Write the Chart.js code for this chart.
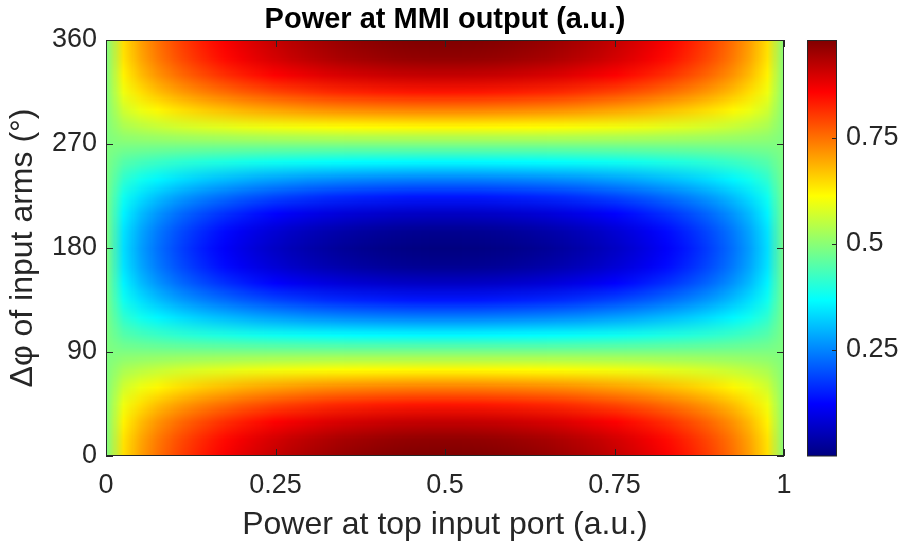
<!DOCTYPE html>
<html>
<head>
<meta charset="utf-8">
<script src="https://cdn.jsdelivr.net/npm/chart.js@4.4.1/dist/chart.umd.min.js"></script>
<style>
  html, body { margin: 0; padding: 0; background: #ffffff; }
  #wrap { width: 906px; height: 548px; }
</style>
</head>
<body>
<div id="wrap"><canvas id="c" width="906" height="548"></canvas></div>
<script>
// Power fed into the top input port (a.u.), one entry per column
const topPower = [0,0.025,0.05,0.075,0.1,0.125,0.15,0.175,0.2,0.225,0.25,0.275,0.3,0.325,0.35,0.375,0.4,0.425,0.45,0.475,0.5,
                  0.525,0.55,0.575,0.6,0.625,0.65,0.675,0.7,0.725,0.75,0.775,0.8,0.825,0.85,0.875,0.9,0.925,0.95,0.975,1];

// Phase difference between the input arms (degrees), one entry per row
const phaseDeg = [0,15,30,45,60,75,90,105,120,135,150,165,180,195,210,225,240,255,270,285,300,315,330,345,360];

// Power at the MMI output (a.u.): one row per phase, one value per top-port power
const outputPower = [
  [0.49,0.643,0.704,0.748,0.784,0.814,0.840,0.862,0.882,0.899,0.914,0.928,0.939,0.949,0.957,0.964,0.970,0.975,0.978,0.979,0.980,0.979,0.978,0.975,0.970,0.964,0.957,0.949,0.939,0.928,0.914,0.899,0.882,0.862,0.840,0.814,0.784,0.748,0.704,0.643,0.49],
  [0.49,0.638,0.696,0.739,0.774,0.803,0.828,0.850,0.869,0.885,0.900,0.913,0.924,0.933,0.942,0.948,0.954,0.958,0.961,0.963,0.963,0.963,0.961,0.958,0.954,0.948,0.942,0.933,0.924,0.913,0.900,0.885,0.869,0.850,0.828,0.803,0.774,0.739,0.696,0.638,0.49],
  [0.49,0.623,0.675,0.714,0.745,0.771,0.793,0.813,0.830,0.844,0.858,0.869,0.879,0.888,0.895,0.901,0.906,0.910,0.912,0.914,0.914,0.914,0.912,0.910,0.906,0.901,0.895,0.888,0.879,0.869,0.858,0.844,0.830,0.813,0.793,0.771,0.745,0.714,0.675,0.623,0.49],
  [0.49,0.598,0.641,0.673,0.698,0.719,0.737,0.753,0.767,0.779,0.790,0.799,0.808,0.815,0.821,0.825,0.830,0.833,0.835,0.836,0.837,0.836,0.835,0.833,0.830,0.825,0.821,0.815,0.808,0.799,0.790,0.779,0.767,0.753,0.737,0.719,0.698,0.673,0.641,0.598,0.49],
  [0.49,0.567,0.597,0.619,0.637,0.652,0.665,0.676,0.686,0.695,0.702,0.709,0.715,0.720,0.724,0.727,0.730,0.732,0.734,0.735,0.735,0.735,0.734,0.732,0.730,0.727,0.724,0.720,0.715,0.709,0.702,0.695,0.686,0.676,0.665,0.652,0.637,0.619,0.597,0.567,0.49],
  [0.49,0.530,0.545,0.557,0.566,0.574,0.581,0.586,0.592,0.596,0.600,0.603,0.606,0.609,0.611,0.613,0.614,0.615,0.616,0.617,0.617,0.617,0.616,0.615,0.614,0.613,0.611,0.609,0.606,0.603,0.600,0.596,0.592,0.586,0.581,0.574,0.566,0.557,0.545,0.530,0.49],
  [0.49,0.49,0.49,0.49,0.49,0.49,0.49,0.49,0.49,0.49,0.49,0.49,0.49,0.49,0.49,0.49,0.49,0.49,0.49,0.49,0.49,0.49,0.49,0.49,0.49,0.49,0.49,0.49,0.49,0.49,0.49,0.49,0.49,0.49,0.49,0.49,0.49,0.49,0.49,0.49,0.49],
  [0.49,0.450,0.435,0.423,0.414,0.406,0.399,0.394,0.389,0.384,0.380,0.377,0.374,0.371,0.369,0.367,0.366,0.365,0.364,0.363,0.363,0.363,0.364,0.365,0.366,0.367,0.369,0.371,0.374,0.377,0.380,0.384,0.389,0.394,0.399,0.406,0.414,0.423,0.435,0.450,0.49],
  [0.49,0.414,0.383,0.361,0.343,0.328,0.315,0.304,0.294,0.285,0.278,0.271,0.265,0.261,0.256,0.253,0.250,0.248,0.246,0.245,0.245,0.245,0.246,0.248,0.250,0.253,0.256,0.261,0.265,0.271,0.278,0.285,0.294,0.304,0.315,0.328,0.343,0.361,0.383,0.414,0.49],
  [0.49,0.382,0.339,0.308,0.282,0.261,0.243,0.227,0.213,0.201,0.190,0.181,0.172,0.165,0.160,0.155,0.151,0.147,0.145,0.144,0.144,0.144,0.145,0.147,0.151,0.155,0.160,0.165,0.172,0.181,0.190,0.201,0.213,0.227,0.243,0.261,0.282,0.308,0.339,0.382,0.49],
  [0.49,0.358,0.305,0.267,0.235,0.209,0.187,0.168,0.151,0.136,0.123,0.111,0.101,0.093,0.085,0.079,0.074,0.070,0.068,0.066,0.066,0.066,0.068,0.070,0.074,0.079,0.085,0.093,0.101,0.111,0.123,0.136,0.151,0.168,0.187,0.209,0.235,0.267,0.305,0.358,0.49],
  [0.49,0.342,0.284,0.241,0.206,0.177,0.152,0.130,0.111,0.095,0.080,0.067,0.056,0.047,0.039,0.032,0.026,0.022,0.019,0.017,0.017,0.017,0.019,0.022,0.026,0.032,0.039,0.047,0.056,0.067,0.080,0.095,0.111,0.130,0.152,0.177,0.206,0.241,0.284,0.342,0.49],
  [0.49,0.337,0.276,0.232,0.196,0.166,0.140,0.118,0.098,0.081,0.066,0.052,0.041,0.031,0.023,0.016,0.010,0.006,0.003,0.001,0.000,0.001,0.003,0.006,0.010,0.016,0.023,0.031,0.041,0.052,0.066,0.081,0.098,0.118,0.140,0.166,0.196,0.232,0.276,0.337,0.49],
  [0.49,0.342,0.284,0.241,0.206,0.177,0.152,0.130,0.111,0.095,0.080,0.067,0.056,0.047,0.039,0.032,0.026,0.022,0.019,0.017,0.017,0.017,0.019,0.022,0.026,0.032,0.039,0.047,0.056,0.067,0.080,0.095,0.111,0.130,0.152,0.177,0.206,0.241,0.284,0.342,0.49],
  [0.49,0.358,0.305,0.267,0.235,0.209,0.187,0.168,0.151,0.136,0.123,0.111,0.101,0.093,0.085,0.079,0.074,0.070,0.068,0.066,0.066,0.066,0.068,0.070,0.074,0.079,0.085,0.093,0.101,0.111,0.123,0.136,0.151,0.168,0.187,0.209,0.235,0.267,0.305,0.358,0.49],
  [0.49,0.382,0.339,0.308,0.282,0.261,0.243,0.227,0.213,0.201,0.190,0.181,0.172,0.165,0.160,0.155,0.151,0.147,0.145,0.144,0.144,0.144,0.145,0.147,0.151,0.155,0.160,0.165,0.172,0.181,0.190,0.201,0.213,0.227,0.243,0.261,0.282,0.308,0.339,0.382,0.49],
  [0.49,0.414,0.383,0.361,0.343,0.328,0.315,0.304,0.294,0.285,0.278,0.271,0.265,0.261,0.256,0.253,0.250,0.248,0.246,0.245,0.245,0.245,0.246,0.248,0.250,0.253,0.256,0.261,0.265,0.271,0.278,0.285,0.294,0.304,0.315,0.328,0.343,0.361,0.383,0.414,0.49],
  [0.49,0.450,0.435,0.423,0.414,0.406,0.399,0.394,0.389,0.384,0.380,0.377,0.374,0.371,0.369,0.367,0.366,0.365,0.364,0.363,0.363,0.363,0.364,0.365,0.366,0.367,0.369,0.371,0.374,0.377,0.380,0.384,0.389,0.394,0.399,0.406,0.414,0.423,0.435,0.450,0.49],
  [0.49,0.49,0.49,0.49,0.49,0.49,0.49,0.49,0.49,0.49,0.49,0.49,0.49,0.49,0.49,0.49,0.49,0.49,0.49,0.49,0.49,0.49,0.49,0.49,0.49,0.49,0.49,0.49,0.49,0.49,0.49,0.49,0.49,0.49,0.49,0.49,0.49,0.49,0.49,0.49,0.49],
  [0.49,0.530,0.545,0.557,0.566,0.574,0.581,0.586,0.592,0.596,0.600,0.603,0.606,0.609,0.611,0.613,0.614,0.615,0.616,0.617,0.617,0.617,0.616,0.615,0.614,0.613,0.611,0.609,0.606,0.603,0.600,0.596,0.592,0.586,0.581,0.574,0.566,0.557,0.545,0.530,0.49],
  [0.49,0.567,0.597,0.619,0.637,0.652,0.665,0.676,0.686,0.695,0.702,0.709,0.715,0.720,0.724,0.727,0.730,0.732,0.734,0.735,0.735,0.735,0.734,0.732,0.730,0.727,0.724,0.720,0.715,0.709,0.702,0.695,0.686,0.676,0.665,0.652,0.637,0.619,0.597,0.567,0.49],
  [0.49,0.598,0.641,0.673,0.698,0.719,0.737,0.753,0.767,0.779,0.790,0.799,0.808,0.815,0.821,0.825,0.830,0.833,0.835,0.836,0.837,0.836,0.835,0.833,0.830,0.825,0.821,0.815,0.808,0.799,0.790,0.779,0.767,0.753,0.737,0.719,0.698,0.673,0.641,0.598,0.49],
  [0.49,0.623,0.675,0.714,0.745,0.771,0.793,0.813,0.830,0.844,0.858,0.869,0.879,0.888,0.895,0.901,0.906,0.910,0.912,0.914,0.914,0.914,0.912,0.910,0.906,0.901,0.895,0.888,0.879,0.869,0.858,0.844,0.830,0.813,0.793,0.771,0.745,0.714,0.675,0.623,0.49],
  [0.49,0.638,0.696,0.739,0.774,0.803,0.828,0.850,0.869,0.885,0.900,0.913,0.924,0.933,0.942,0.948,0.954,0.958,0.961,0.963,0.963,0.963,0.961,0.958,0.954,0.948,0.942,0.933,0.924,0.913,0.900,0.885,0.869,0.850,0.828,0.803,0.774,0.739,0.696,0.638,0.49],
  [0.49,0.643,0.704,0.748,0.784,0.814,0.840,0.862,0.882,0.899,0.914,0.928,0.939,0.949,0.957,0.964,0.970,0.975,0.978,0.979,0.980,0.979,0.978,0.975,0.970,0.964,0.957,0.949,0.939,0.928,0.914,0.899,0.882,0.862,0.840,0.814,0.784,0.748,0.704,0.643,0.49]
];

// Tick positions for the two axes and the colour bar
const xTicks = [0, 0.25, 0.5, 0.75, 1];
const yTicks = [0, 90, 180, 270, 360];
const cbTicks = [0.25, 0.5, 0.75];
const colorLimits = [0, 0.98];

const FONT = "'Liberation Sans', Arial, Helvetica, sans-serif";
const INK = '#262626';
const TICK_SIZE = 27;
const LABEL_SIZE = 32;

// MATLAB-style jet colour map, t in [0, 1]
function jet(t) {
  t = Math.min(1, Math.max(0, t));
  const c = v => Math.round(255 * Math.min(1, Math.max(0, v)));
  return [c(1.5 - Math.abs(4 * t - 3)), c(1.5 - Math.abs(4 * t - 2)), c(1.5 - Math.abs(4 * t - 1))];
}
const norm = v => (v - colorLimits[0]) / (colorLimits[1] - colorLimits[0]);
// jet is piecewise linear, so these breakpoints describe it exactly
const jetBreaks = [0, 1 / 8, 3 / 8, 5 / 8, 7 / 8, 1];

const fixedTicks = list => scale => { scale.ticks = list.map(v => ({ value: v })); };
const plainLabel = v => String(v);

const heatmapPlugin = {
  id: 'heatmap',
  beforeDatasetsDraw(chart) {
    const { ctx, chartArea, scales: { x, y, cb } } = chart;
    const nx = topPower.length, ny = phaseDeg.length;

    // one texel per grid node, shaded smoothly between nodes
    const off = document.createElement('canvas');
    off.width = nx; off.height = ny;
    const octx = off.getContext('2d');
    const img = octx.createImageData(nx, ny);
    for (let j = 0; j < ny; j++) {
      const row = outputPower[j];
      const py = ny - 1 - j;
      for (let i = 0; i < nx; i++) {
        const [r, g, b] = jet(norm(row[i]));
        const k = (py * nx + i) * 4;
        img.data[k] = r; img.data[k + 1] = g; img.data[k + 2] = b; img.data[k + 3] = 255;
      }
    }
    octx.putImageData(img, 0, 0);

    const x0 = x.getPixelForValue(topPower[0]);
    const x1 = x.getPixelForValue(topPower[nx - 1]);
    const yB = y.getPixelForValue(phaseDeg[0]);
    const yT = y.getPixelForValue(phaseDeg[ny - 1]);
    ctx.save();
    ctx.imageSmoothingEnabled = true;
    ctx.drawImage(off, 0.5, 0.5, nx - 1, ny - 1, x0, yT, x1 - x0, yB - yT);
    ctx.restore();

    // colour bar
    const barL = chartArea.right + 23, barW = 29;
    const cTop = cb.getPixelForValue(colorLimits[1]);
    const cBot = cb.getPixelForValue(colorLimits[0]);
    const grad = ctx.createLinearGradient(0, cBot, 0, cTop);
    jetBreaks.forEach(t => {
      const [r, g, b] = jet(t);
      grad.addColorStop(t, `rgb(${r},${g},${b})`);
    });
    ctx.save();
    ctx.fillStyle = grad;
    ctx.fillRect(barL, cTop, barW, cBot - cTop);
    ctx.strokeStyle = INK;
    ctx.lineWidth = 1;
    ctx.strokeRect(barL + 0.5, Math.round(cTop) + 0.5, barW, Math.round(cBot - cTop) - 0.5);
    ctx.beginPath();
    cbTicks.forEach(v => {
      const py = Math.round(cb.getPixelForValue(v)) + 0.5;
      ctx.moveTo(barL + barW + 0.5, py);
      ctx.lineTo(barL + barW - 4, py);
    });
    ctx.stroke();
    ctx.restore();
  },
  afterDatasetsDraw(chart) {
    const { ctx, chartArea: a, scales: { x, y } } = chart;
    ctx.save();
    ctx.strokeStyle = INK;
    ctx.lineWidth = 1;
    ctx.strokeRect(a.left + 0.5, a.top + 0.5, a.right - a.left - 1, a.bottom - a.top - 1);
    const len = 7;
    ctx.beginPath();
    xTicks.forEach(v => {
      const px = Math.round(x.getPixelForValue(v)) + 0.5;
      ctx.moveTo(px, a.bottom); ctx.lineTo(px, a.bottom - len);
      ctx.moveTo(px, a.top); ctx.lineTo(px, a.top + len);
    });
    yTicks.forEach(v => {
      const py = Math.round(y.getPixelForValue(v)) + 0.5;
      ctx.moveTo(a.left, py); ctx.lineTo(a.left + len, py);
      ctx.moveTo(a.right, py); ctx.lineTo(a.right - len, py);
    });
    ctx.stroke();
    ctx.restore();
  }
};

new Chart(document.getElementById('c'), {
  type: 'scatter',
  data: { datasets: [] },
  options: {
    responsive: false,
    animation: false,
    devicePixelRatio: 1,
    layout: { padding: 0 },
    plugins: {
      legend: { display: false },
      tooltip: { enabled: false },
      title: {
        display: true,
        fullSize: false,
        text: 'Power at MMI output (a.u.)',
        color: '#000000',
        font: { family: FONT, size: 29, weight: 'bold' },
        padding: { top: 2.6, bottom: 2.6 }
      }
    },
    scales: {
      x: {
        type: 'linear', min: 0, max: 1,
        afterBuildTicks: fixedTicks(xTicks),
        afterFit: s => { s.height = 92; },
        grid: { display: false, drawTicks: false },
        border: { display: false },
        ticks: { color: INK, font: { family: FONT, size: TICK_SIZE }, padding: 13, maxRotation: 0, autoSkip: false, callback: plainLabel },
        title: { display: true, text: 'Power at top input port (a.u.)', color: INK,
                 font: { family: FONT, size: LABEL_SIZE }, padding: { top: 0, bottom: 4 } }
      },
      y: {
        type: 'linear', min: 0, max: 360,
        afterBuildTicks: fixedTicks(yTicks),
        afterFit: s => { s.width = 106; },
        grid: { display: false, drawTicks: false },
        border: { display: false },
        ticks: { color: INK, font: { family: FONT, size: TICK_SIZE }, padding: 9, autoSkip: false, callback: plainLabel },
        title: { display: true, text: 'Δφ of input arms (°)', color: INK,
                 font: { family: FONT, size: LABEL_SIZE }, padding: { top: 4, bottom: 0 } }
      },
      cb: {
        type: 'linear', position: 'right', axis: 'y',
        min: colorLimits[0], max: colorLimits[1],
        afterBuildTicks: fixedTicks(cbTicks),
        afterFit: s => { s.width = 122; },
        grid: { display: false, drawTicks: true, tickLength: 54 },
        border: { display: false },
        ticks: { color: INK, font: { family: FONT, size: TICK_SIZE }, padding: 8, autoSkip: false, callback: plainLabel }
      }
    }
  },
  plugins: [heatmapPlugin]
});
</script>
</body>
</html>
